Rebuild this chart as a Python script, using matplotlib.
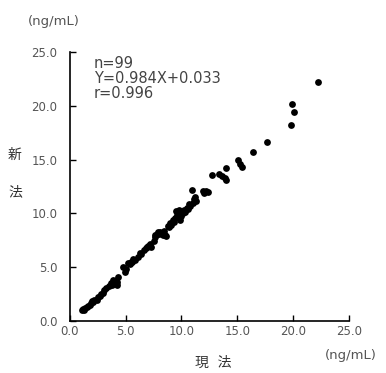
import matplotlib
matplotlib.use("Agg")
import matplotlib.pyplot as plt

plt.rcParams['font.family'] = ['DejaVu Sans', 'Noto Sans CJK JP']

# current method (x) vs new method (y), ng/mL
current = [1.1, 1.2, 1.3, 1.4, 1.5, 1.6, 1.8, 1.9, 2.0, 2.1, 2.2, 2.4, 2.5, 2.7, 2.8,
           3.0, 3.1, 3.2, 3.5, 3.7, 3.8, 3.9, 4.2, 4.3, 4.2, 4.8, 4.9, 5.0, 5.2, 5.4,
           5.5, 5.7, 5.8, 5.6, 6.1, 6.3, 6.4, 6.6, 6.8, 6.9, 7.0, 7.2, 7.3, 7.5, 7.6,
           7.6, 7.8, 7.9, 8.1, 8.0, 8.3, 8.4, 8.5, 8.6, 8.8, 8.9, 9.0, 9.1, 9.2, 9.3,
           9.4, 9.55, 9.6, 9.7, 9.8, 9.85, 9.9, 10.0, 10.1, 10.2, 10.3, 10.45, 10.6,
           10.7, 10.8, 10.9, 11.0, 11.1, 11.2, 11.3, 11.9, 12.0, 12.2, 12.4, 12.7,
           13.4, 13.6, 13.9, 14.0, 14.0, 15.1, 15.2, 15.4, 16.4, 17.7, 19.8, 19.9,
           20.1, 22.2]
new = [1.0, 1.1, 1.0, 1.2, 1.3, 1.4, 1.5, 1.7, 1.9, 1.8, 2.0, 2.0, 2.2, 2.3, 2.5,
       2.6, 2.9, 3.1, 3.3, 3.5, 3.4, 3.8, 3.65, 4.1, 3.4, 5.0, 4.6, 4.8, 5.4, 5.3,
       5.5, 5.8, 5.7, 5.5, 6.0, 6.3, 6.2, 6.6, 6.8, 6.9, 7.0, 7.2, 6.9, 7.4, 7.8,
       8.0, 8.1, 8.3, 8.3, 8.1, 8.0, 8.4, 8.0, 7.9, 8.8, 8.7, 9.1, 8.9, 9.4, 9.2,
       9.6, 10.2, 9.9, 9.7, 10.3, 9.4, 10.0, 9.8, 10.0, 10.3, 10.1, 10.5, 10.4,
       10.9, 10.7, 12.2, 11.0, 11.3, 11.5, 11.2, 12.1, 11.9, 12.1, 12.0, 13.6,
       13.7, 13.5, 13.3, 14.2, 13.1, 15.0, 14.6, 14.3, 15.7, 16.6, 18.2, 20.2,
       19.4, 22.2]
ticks = [0, 5, 10, 15, 20, 25]
tick_labels = ["0.0", "5.0", "10.0", "15.0", "20.0", "25.0"]
stats = "n=99\nY=0.984X+0.033\nr=0.996"

fig = plt.figure(figsize=(3.86, 3.73), dpi=100)
ax = fig.add_axes([0.181, 0.139, 0.723, 0.722])
ax.scatter(current, new, s=24, color="black", linewidths=0, zorder=3)

ax.set_xlim(0, 25)
ax.set_ylim(0, 25)
ax.set_xticks(ticks)
ax.set_yticks(ticks)
ax.set_xticklabels(tick_labels)
ax.set_yticklabels(tick_labels)
ax.tick_params(direction="in", length=4, width=1, labelsize=8.5,
               labelcolor="#555555", pad=3)
ax.tick_params(axis="y", pad=9)
ax.spines["top"].set_visible(False)
ax.spines["right"].set_visible(False)
for side in ["left", "bottom"]:
    ax.spines[side].set_linewidth(1.2)

ax.text(0.085, 0.985, stats, transform=ax.transAxes, fontsize=10.5,
        color="#444444", va="top", ha="left", linespacing=1.0)

fig.text(28 / 386, 1 - 22 / 373, "(ng/mL)", fontsize=9.5, color="#555555",
         ha="left", va="center")
fig.text(325 / 386, 1 - 355 / 373, "(ng/mL)", fontsize=9.5, color="#555555",
         ha="left", va="center")
fig.text(15 / 386, 1 - 155 / 373, "新", fontsize=10, color="#333333",
         ha="center", va="center")
fig.text(15 / 386, 1 - 192 / 373, "法", fontsize=10, color="#333333",
         ha="center", va="center")
fig.text(213 / 386, 1 - 363 / 373, "現  法", fontsize=10, color="#333333",
         ha="center", va="center")

fig.savefig("out.png", dpi=100)
